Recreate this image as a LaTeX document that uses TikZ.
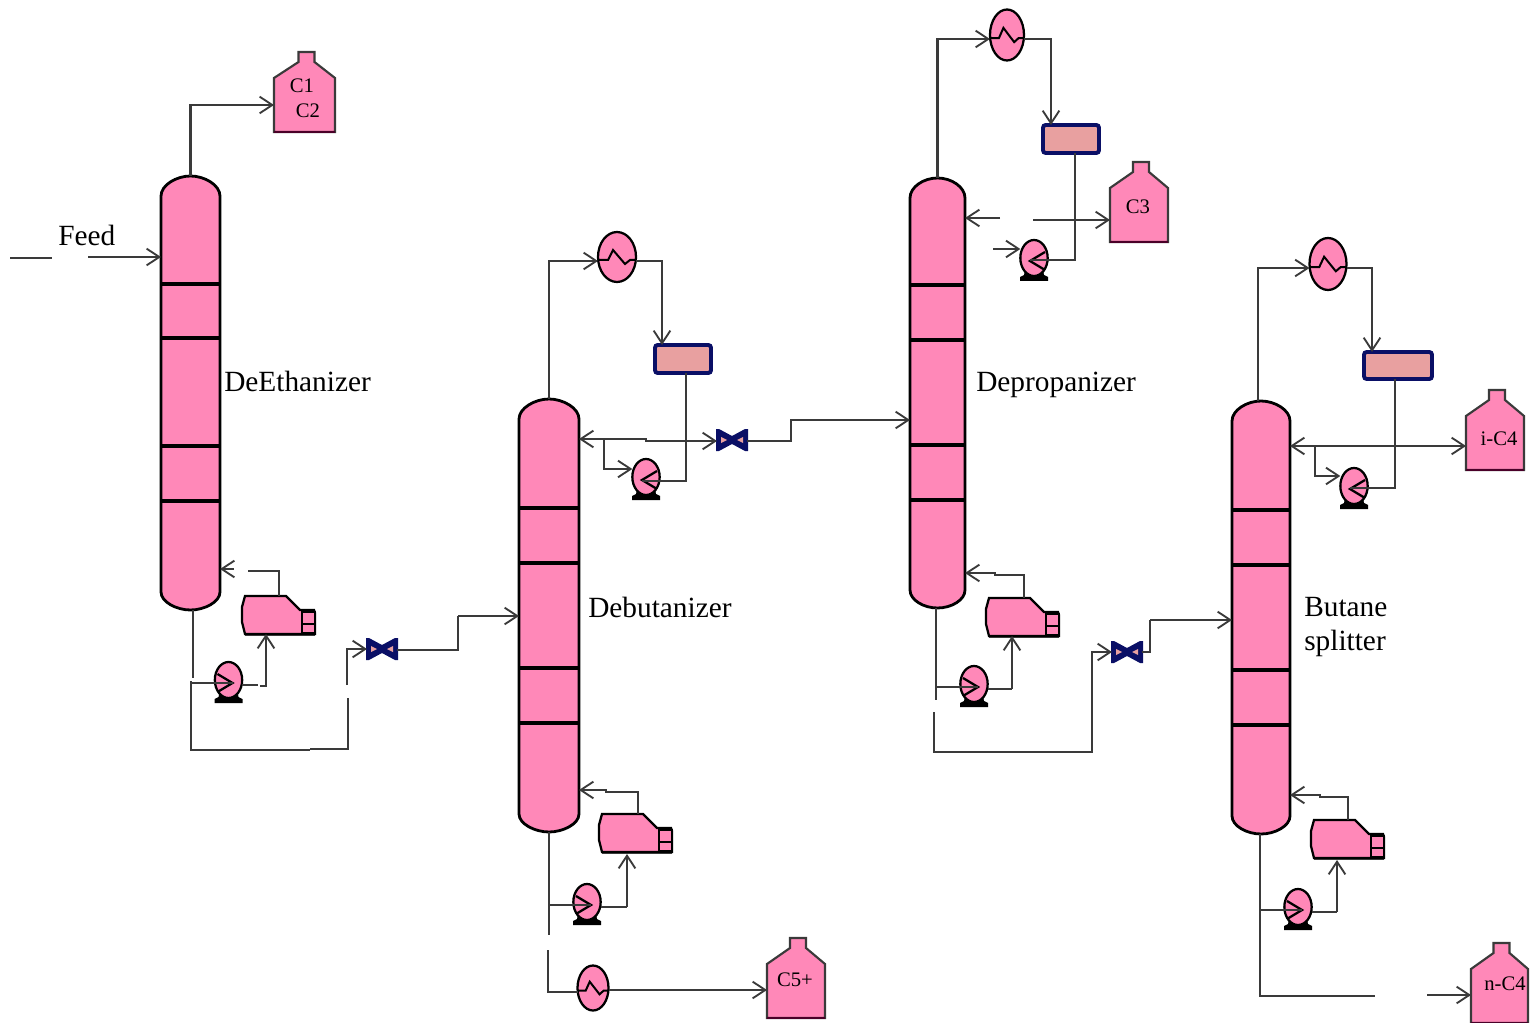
\documentclass[tikz,border=0pt]{standalone}
\usepackage{fontspec}
\setmainfont{Liberation Serif}
\usetikzlibrary{arrows.meta,fit,shapes.geometric}
\definecolor{pk}{HTML}{FF88B8}
\definecolor{pkd}{HTML}{4A0028}
\definecolor{ln}{HTML}{3A3A3A}
\definecolor{nv}{HTML}{0A0F66}
\definecolor{dr}{HTML}{E8A0A0}
\tikzset{
  pipe/.style={draw=ln,line width=1.55pt,line join=miter},
  arr/.style={pipe,-{Straight Barb[length=9.5pt,width=12.5pt,line width=1.4pt]}},
  eq/.style={draw=black,fill=pk,line width=1.7pt},
  anchorbox/.style={inner sep=0pt,outer sep=0pt},
  biglabel/.style={inner sep=0pt,anchor=base west,font=\fontsize{22}{26}\selectfont,text=black},
  smalllabel/.style={inner sep=0pt,font=\fontsize{15.5}{18}\selectfont,text=black}
}
% name, xl, xr, ytop, ybot, trays
\newcommand{\columnunit}[9]{%
  \pgfmathsetmacro{\xc}{(#2+#3)/2}
  \draw[eq,line width=2.1pt] (#2,#4+20) .. controls (#2,#4+9) and (\xc-14,#4) .. (\xc,#4)
     .. controls (\xc+14,#4) and (#3,#4+9) .. (#3,#4+20) -- (#3,#5-18)
     .. controls (#3,#5-8) and (\xc+14,#5) .. (\xc,#5)
     .. controls (\xc-14,#5) and (#2,#5-8) .. (#2,#5-18) -- cycle;
  \draw[black,line width=2.5pt] (#2,#6)--(#3,#6);
  \draw[black,line width=2.3pt] (#2,#7)--(#3,#7) (#2,#8)--(#3,#8) (#2,#9)--(#3,#9);
  \node[anchorbox,fit={(#2,#4)(#3,#5)}] (#1) {};
}
% name, left, top, width
\newcommand{\productunit}[4]{%
  \pgfmathsetmacro{\xc}{#2+#4/2+2}
  \draw[eq,draw=ln,line width=1.6pt] (#2,#3+80) -- (#2,#3+26) -- (\xc-8,#3+10) -- (\xc-8,#3) -- (\xc+8,#3) -- (\xc+8,#3+10) -- (#2+#4,#3+26) -- (#2+#4,#3+80) -- cycle;
  \draw[pkd,line width=2pt] (#2,#3+80) -- (#2+#4,#3+80);
  \node[anchorbox,fit={(#2,#3)(#2+#4,#3+80)}] (#1) {};
}
% name, cx, cy, w, h
\newcommand{\heaterunit}[5]{%
  \node[eq,ellipse,anchorbox,minimum width=#4*0.75pt,minimum height=#5*0.75pt] (#1) at (#2,#3) {};
  \begin{scope}[shift={(#2,#3)},xscale=#4/38,yscale=#5/50]
    \draw[black,line width=1.5pt] (-19,3)--(-9,3)--(-4,-7)--(8,7)--(13,3)--(19,3);
  \end{scope}
}
% name, cx, cy, direction (1 bottom type, -1 top type)
\newcommand{\pumpunit}[4]{%
  \fill[black] (#2-9,#3+12) -- (#2+9,#3+12) -- (#2+10,#3+17) -- (#2+14,#3+19) -- (#2+14,#3+23) -- (#2-14,#3+23) -- (#2-14,#3+19) -- (#2-10,#3+17) -- cycle;
  \node[eq,ellipse,anchorbox,minimum width=20.5pt,minimum height=27pt] (#1) at (#2,#3) {};
  \begin{scope}[shift={(#2,#3)},xscale=#4]
    \draw[black,line width=1.7pt] (-11,-6) -- (4,3) -- (-11,12);
    \coordinate (#1m) at (4,3);
  \end{scope}
}
% name, left, top
\newcommand{\reboilerunit}[3]{%
  \begin{scope}[shift={(#2,#3)}]
    \draw[eq] (3,0)--(44,0)--(58,14)--(72,14)--(73,17)--(73,38)--(3,38)--(0,26)--(0,11)--cycle;
    \draw[black,line width=1.9pt,fill=pk] (60,16) rectangle (73,37);
    \draw[black,line width=1.9pt] (60,28)--(73,28);
    \draw[ln,line width=1.2pt] (3,39.5)--(73,39.5);
    \node[anchorbox,fit={(0,0)(73,38)}] (#1) {};
  \end{scope}
}
% name, left, top, right, bottom
\newcommand{\drumunit}[5]{%
  \draw[draw=nv,fill=dr,line width=2.9pt,rounded corners=2pt] (#2,#3) rectangle (#4,#5);
  \node[anchorbox,fit={(#2,#3)(#4,#5)}] (#1) {};
}
% name, cx, cy
\newcommand{\valveunit}[3]{%
  \begin{scope}[shift={(#2,#3)}]
    \fill[nv] (-16,-11)--(-13,-11)--(0,-4)--(13,-11)--(16,-11)--(16,11)--(13,11)--(0,4)--(-13,11)--(-16,11)--cycle;
    \fill[dr] (-11,-3)--(-5,0)--(-11,3)--cycle (11,-3)--(5,0)--(11,3)--cycle;
    \node[anchorbox,fit={(-15,-10)(15,10)}] (#1) {};
  \end{scope}
}
\begin{document}
\begin{tikzpicture}[x=0.75pt,y=-0.75pt]
\useasboundingbox (0,0) rectangle (1538,1023);
% ---------- equipment
\columnunit{ca}{161}{220}{176}{610}{284}{338}{446}{501}
\columnunit{cb}{519}{579}{399}{832}{508}{563}{668}{723}
\columnunit{cc}{910}{965}{178}{608}{285}{340}{445}{500}
\columnunit{cd}{1232}{1290}{401}{834}{510}{565}{670}{725}
\productunit{pa}{274}{52}{61}
\productunit{pb}{767}{938}{58}
\productunit{pc}{1110}{162}{58}
\productunit{pd}{1466}{390}{58}
\productunit{pe}{1471}{943}{57}
\heaterunit{hb}{617}{257}{38}{50}
\heaterunit{hc}{1007}{35}{34}{51}
\heaterunit{hd}{1328}{264}{37}{52}
\heaterunit{he}{593}{988}{31}{45}
\drumunit{db}{655}{345}{711}{373}
\drumunit{dc}{1043}{125}{1099}{153}
\drumunit{dd}{1364}{352}{1432}{379}
\pumpunit{ua}{228.5}{680}{1}
\pumpunit{ub}{587}{902}{1}
\pumpunit{uc}{974}{684}{1}
\pumpunit{ud}{1298}{907}{1}
\pumpunit{ue}{646}{477}{-1}
\pumpunit{uf}{1034}{258}{-1}
\pumpunit{ug}{1354}{486}{-1}
\reboilerunit{ra}{242}{596}
\reboilerunit{rb}{599}{814}
\reboilerunit{rc}{986}{598}
\reboilerunit{rd}{1311}{820}
\valveunit{va}{382}{649}
\valveunit{vb}{732}{440}
\valveunit{vc}{1127}{652}
% ---------- free ends
\coordinate (fa) at (10,258);
\coordinate (fb) at (52,258);
\coordinate (fc) at (88,257);
% ---------- DeEthanizer
\draw[arr] (ca.north) |- (pa.west |- 0,105);
\draw[pipe] (fa) -- (fb);
\draw[arr] (fc) -- (ca.west |- fc);
\draw[pipe] (193,610) -- (193,678);
\draw[pipe] (191,0 |- uam) -- (uam);
\draw[pipe] (191,681) -- (191,750) -- (310,750) (310,749) -- (348,749) -- (348,698);
\draw[arr] (347,685) -- (347,649) -- (va.west |- 0,649);
\draw[pipe] (ua.east |- 0,685) -- (258,685);
\draw[arr] (260,686) -- (266,686) -- (266,634);
\draw[pipe] (279,596) -- (279,571) -- (248,571);
\draw[arr] (234,569) -- (ca.east |- 0,569);
\draw[pipe] (va.east |- 0,650) -- (458,650) -- (458,616);
\draw[arr] (458,616) -- (cb.west |- 0,616);
% ---------- Debutanizer
\draw[arr] (cb.north) |- (hb.west |- 0,261);
\draw[arr] (hb.east |- 0,261) -- (662,261) -- (662,345);
\draw[pipe] (686,0 |- db.south) -- (686,481) -- (uem |- 0,481);
\draw[arr] (686,441) -- (646,441) -- (646,439) -- (cb.east |- 0,439);
\draw[arr] (686,441) -- (vb.west |- 0,441);
\draw[arr] (604,439) -- (604,469) -- (ue.west |- 0,469);
\draw[arr] (vb.east |- 0,441) -- (791,441) -- (791,420) -- (cc.west |- 0,420);
\draw[pipe] (549,832) -- (549,935);
\draw[pipe] (548,950) -- (548,992) -- (he.west |- 0,992);
\draw[arr] (he.east |- 0,990) -- (pb.west |- 0,990);
\draw[pipe] (550,0 |- ubm) -- (ubm);
\draw[pipe] (ub.east |- 0,907) -- (627,907);
\draw[arr] (627,907) -- (627,854);
\draw[arr] (638,814) -- (638,792) -- (606,792) -- (606,790) -- (cb.east |- 0,790);
% ---------- Depropanizer
\draw[arr] (cc.north) |- (hc.west |- 0,39);
\draw[arr] (hc.east |- 0,39) -- (1051,39) -- (1051,125);
\draw[pipe] (1075,0 |- dc.south) -- (1075,260) -- (ufm |- 0,260);
\draw[arr] (1033,220) -- (pc.west |- 0,220);
\draw[arr] (1000,218) -- (cc.east |- 0,218);
\draw[arr] (993,249) -- (uf.west |- 0,249);
\draw[pipe] (936,608) -- (936,700);
\draw[pipe] (936,0 |- ucm) -- (ucm);
\draw[pipe] (uc.east |- 0,689) -- (1012,689);
\draw[arr] (1012,689) -- (1012,636);
\draw[arr] (1024,598) -- (1024,575) -- (995,575) -- (995,573) -- (cc.east |- 0,573);
\draw[arr] (934,712) -- (934,752) -- (1092,752) -- (1092,652) -- (vc.west |- 0,652);
\draw[pipe] (vc.east |- 0,652) -- (1150,652) -- (1150,620);
\draw[arr] (1150,620) -- (cd.west |- 0,620);
% ---------- Butane splitter
\draw[arr] (1258,0 |- cd.north) |- (hd.west |- 0,268);
\draw[arr] (hd.east |- 0,268) -- (1372,268) -- (1372,352);
\draw[pipe] (1395,0 |- dd.south) -- (1395,488) -- (ugm |- 0,488);
\draw[arr] (1395,446) -- (cd.east |- 0,446);
\draw[arr] (1395,446) -- (pd.west |- 0,446);
\draw[arr] (1315,446) -- (1315,476) -- (ug.west |- 0,476);
\draw[pipe] (1260,834) -- (1260,996) -- (1375,996);
\draw[arr] (1427,995) -- (pe.west |- 0,995);
\draw[pipe] (1260,0 |- udm) -- (udm);
\draw[pipe] (ud.east |- 0,912) -- (1337,912);
\draw[arr] (1337,912) -- (1337,860);
\draw[arr] (1348,820) -- (1348,797) -- (1320,797) -- (1320,795) -- (cd.east |- 0,795);
% ---------- labels
\node[biglabel] (lf) at (58,245.5) {Feed};
\node[biglabel] (la) at (224,391.5) {DeEthanizer};
\node[biglabel] (lb) at (588,617.5) {Debutanizer};
\node[biglabel] (lc) at (976,391.5) {Depropanizer};
\node[biglabel] (ld) at (1304,616) {Butane};
\node[biglabel] (le) at (1304,650) {splitter};
\node[smalllabel] (ta) at (302,86) {C1};
\node[smalllabel] (tb) at (308,111) {C2};
\node[smalllabel] (tc) at (795,980) {C5+};
\node[smalllabel] (td) at (1138,207) {C3};
\node[smalllabel] (te) at (1499,439) {i-C4};
\node[smalllabel] (tf) at (1505,984) {n-C4};
\end{tikzpicture}
\end{document}
